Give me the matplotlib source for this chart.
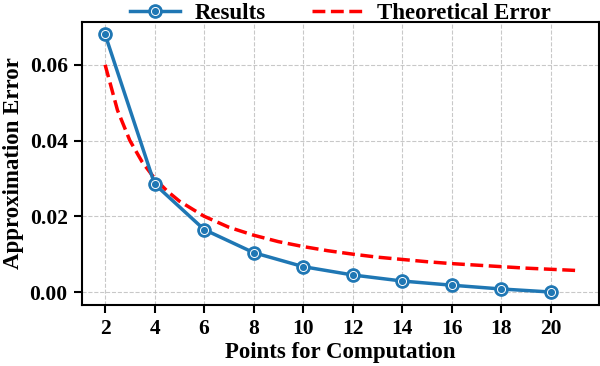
import matplotlib
matplotlib.use('Agg')
import matplotlib.pyplot as plt

# measured points
points = [2, 4, 6, 8, 10, 12, 14, 16, 18, 20]
results = [0.068, 0.0285, 0.0165, 0.0104, 0.0067, 0.0045, 0.0029, 0.0018, 0.0008, 0.0000]

# theoretical error curve
theory_x = [2, 2.5, 3, 3.5, 4, 4.5, 5, 6, 7, 8, 9, 10, 11, 12, 13, 14, 15, 16, 17, 18, 19, 20, 21]
theory_y = [0.060, 0.048, 0.040, 0.0343, 0.030, 0.0267, 0.024, 0.020, 0.0171, 0.015, 0.0133,
            0.012, 0.0109, 0.010, 0.0092, 0.0086, 0.008, 0.0075, 0.0071, 0.0067, 0.0063,
            0.006, 0.0057]

x_ticks = [2, 4, 6, 8, 10, 12, 14, 16, 18, 20]
y_ticks = [0.00, 0.02, 0.04, 0.06]

plt.rcParams['font.family'] = ['Liberation Serif', 'DejaVu Serif']
plt.rcParams['font.weight'] = 'bold'
plt.rcParams['axes.labelweight'] = 'bold'

fig = plt.figure(figsize=(6, 3.66), dpi=100)
ax = fig.add_axes([0.136, 0.167, 0.862, 0.774])

blue = '#1f77b4'
line_res, = ax.plot(points, results, color=blue, linewidth=2.5, marker='o', markersize=9.5,
                    markerfacecolor=blue, markeredgecolor=blue, zorder=3)
# thin white ring inside the markers
ring, = ax.plot(points, results, linestyle='none', marker='o', markersize=5.8,
                markerfacecolor='none', markeredgecolor='white', markeredgewidth=0.7, zorder=4)
line_th, = ax.plot(theory_x, theory_y, color='red', linestyle='--', linewidth=2.5, zorder=2)

ax.set_xticks(x_ticks)
ax.set_yticks(y_ticks)
ax.set_yticklabels([f'{v:.2f}' for v in y_ticks])
ax.tick_params(axis='both', labelsize=15.5, width=1.5, length=6, pad=4)
for lbl in ax.get_xticklabels() + ax.get_yticklabels():
    lbl.set_fontweight('bold')

ax.set_xlabel('Points for Computation', fontsize=16.5, fontweight='bold', labelpad=2)
ax.set_ylabel('Approximation Error', fontsize=16.5, fontweight='bold', labelpad=4)

ax.grid(True, linestyle='--', color='#bbbbbb', linewidth=0.8, alpha=0.8)
ax.set_axisbelow(True)
for sp in ax.spines.values():
    sp.set_linewidth(1.5)
    sp.set_color('black')

ax.legend([(line_res, ring), line_th], ['Results', 'Theoretical Error'],
          loc='lower center', bbox_to_anchor=(0.5, 0.993), ncol=2, frameon=False,
          prop={'size': 16.5, 'weight': 'bold'}, handlelength=2.2, columnspacing=2.0,
          borderaxespad=0, handletextpad=0.65, borderpad=0)

plt.savefig('out.png', dpi=100)
plt.close()
